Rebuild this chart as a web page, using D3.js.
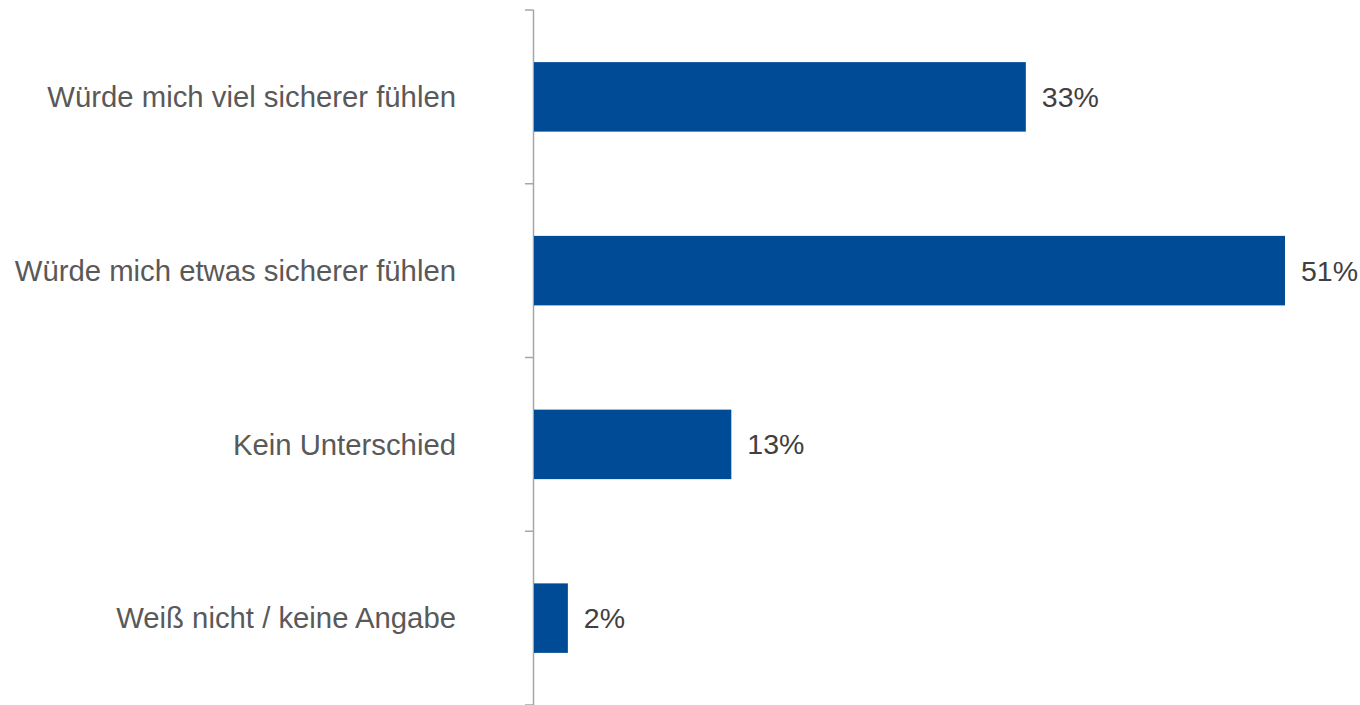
<!DOCTYPE html>
<html>
<head>
<meta charset="utf-8">
<script src="https://cdn.jsdelivr.net/npm/d3@7"></script>
<style>
  body { margin: 0; background: #fff; }
  text { font-family: "Liberation Sans", Arial, sans-serif; }
</style>
</head>
<body>
<div id="chart"></div>
<script>
// data
const categories = ["Würde mich viel sicherer fühlen", "Würde mich etwas sicherer fühlen", "Kein Unterschied", "Weiß nicht / keine Angabe"];
const values = [33.4, 51, 13.4, 2.3];
const valueLabels = ["33%", "51%", "13%", "2%"];

const width = 1360, height = 705;
const margin = { top: 10, right: 75, bottom: 0, left: 533 };

const svg = d3.select("#chart")
    .append("svg")
    .attr("width", width)
    .attr("height", height);

const x = d3.scaleLinear()
    .domain([0, 51])
    .range([margin.left + 1, 1285]);

const y = d3.scaleBand()
    .domain(categories)
    .range([margin.top, height])
    .paddingInner(0.6)
    .paddingOuter(0.3);

// axis line with ticks at band boundaries
const axisColor = "#a6a6a6";
svg.append("line")
    .attr("x1", margin.left + 0.5).attr("x2", margin.left + 0.5)
    .attr("y1", margin.top).attr("y2", height)
    .attr("stroke", axisColor).attr("stroke-width", 1.5);

const boundaries = d3.range(categories.length + 1).map(i => margin.top + i * y.step());
svg.selectAll(".tick")
    .data(boundaries)
    .enter()
    .append("line")
    .attr("x1", margin.left - 8).attr("x2", margin.left + 0.5)
    .attr("y1", d => d).attr("y2", d => d)
    .attr("stroke", axisColor).attr("stroke-width", 1.5);

// bars
svg.selectAll(".bar")
    .data(values)
    .enter()
    .append("rect")
    .attr("x", x(0))
    .attr("y", (d, i) => y(categories[i]))
    .attr("width", d => x(d) - x(0))
    .attr("height", y.bandwidth())
    .attr("fill", "#004b96");

// value labels
svg.selectAll(".val")
    .data(values)
    .enter()
    .append("text")
    .attr("x", d => x(d) + 16)
    .attr("y", (d, i) => y(categories[i]) + y.bandwidth() / 2)
    .attr("dy", "0.35em")
    .attr("font-size", 28.5)
    .attr("fill", "#404040")
    .text((d, i) => valueLabels[i]);

// category labels
svg.selectAll(".cat")
    .data(categories)
    .enter()
    .append("text")
    .attr("x", 456)
    .attr("y", d => y(d) + y.bandwidth() / 2)
    .attr("dy", "0.35em")
    .attr("text-anchor", "end")
    .attr("font-size", 29.3)
    .attr("fill", "#595959")
    .text(d => d);
</script>
</body>
</html>
